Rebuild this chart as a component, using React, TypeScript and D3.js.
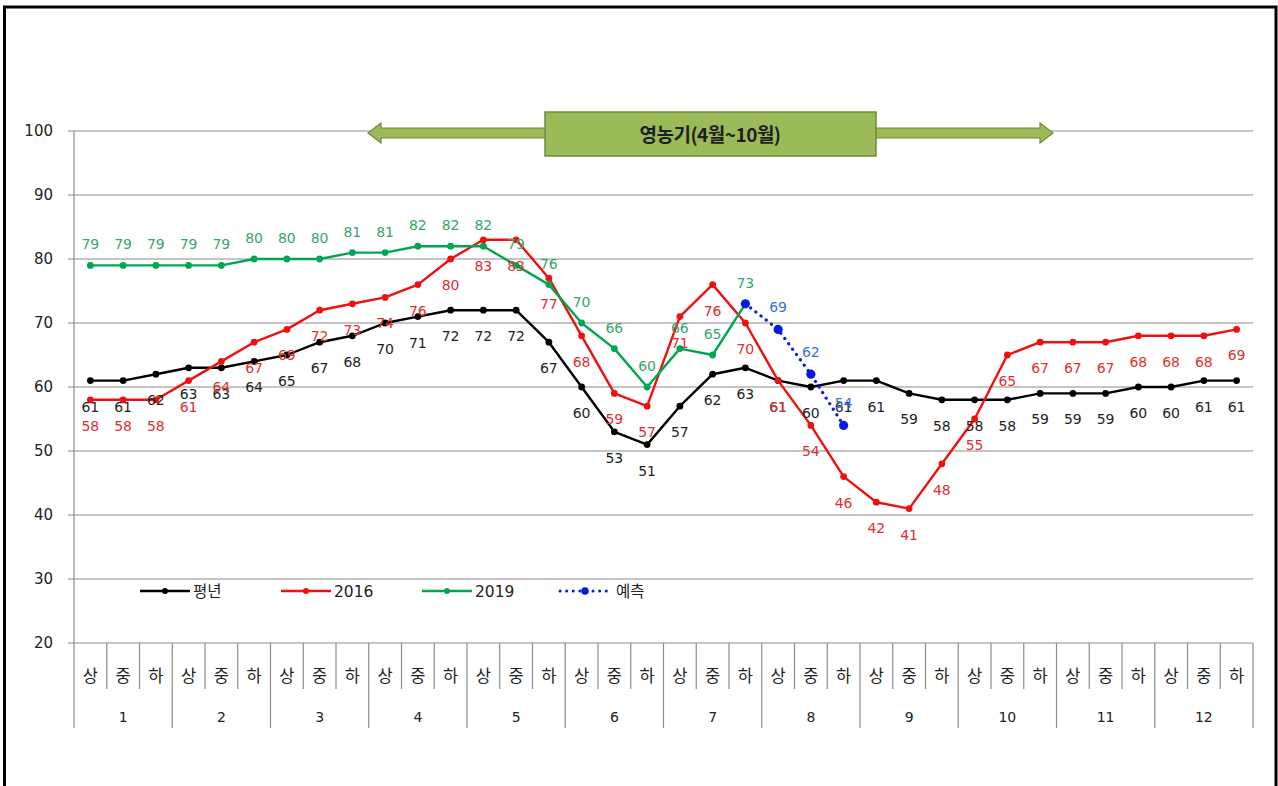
import { useEffect, useRef } from "react";
import * as d3 from "d3";

const months = ["1", "2", "3", "4", "5", "6", "7", "8", "9", "10", "11", "12"];
const thirds = ["상", "중", "하"];
const yTicks = [20, 30, 40, 50, 60, 70, 80, 90, 100];

// 평년
const normal = [61, 61, 62, 63, 63, 64, 65, 67, 68, 70, 71, 72, 72, 72, 67, 60, 53, 51, 57, 62, 63, 61, 60, 61, 61, 59, 58, 58, 58, 59, 59, 59, 60, 60, 61, 61];
// 2016
const y2016 = [58, 58, 58, 61, 64, 67, 69, 72, 73, 74, 76, 80, 83, 83, 77, 68, 59, 57, 71, 76, 70, 61, 54, 46, 42, 41, 48, 55, 65, 67, 67, 67, 68, 68, 68, 69];
// 2019 (to 7월 하순)
const y2019 = [79, 79, 79, 79, 79, 80, 80, 80, 81, 81, 82, 82, 82, 79, 76, 70, 66, 60, 66, 65, 73];
// 예측, starts at 7월 하순
const forecastStart = 20;
const forecast = [73, 69, 62, 54];

const bannerText = "영농기(4월~10월)";

type Pt = { i: number; v: number };

export default function App() {
  const ref = useRef<SVGSVGElement | null>(null);

  useEffect(() => {
    const svg = d3.select(ref.current);
    svg.selectAll("*").remove();

    const W = 1278, H = 786;
    const left = 74, right = 1253, top = 131, bottom = 643;
    const font = "'DejaVu Sans', 'Noto Sans CJK KR', sans-serif";
    const kfont = "'Noto Sans CJK KR', sans-serif";

    const cats = d3.range(36);
    const x = d3.scaleBand<number>().domain(cats).range([left, right]);
    const cx = (i: number) => (x(i) ?? 0) + x.bandwidth() / 2;
    const y = d3.scaleLinear().domain([20, 100]).range([bottom, top]);

    svg.attr("width", W).attr("height", H).attr("viewBox", `0 0 ${W} ${H}`);
    svg.append("rect").attr("width", W).attr("height", H).attr("fill", "#fff");

    // outer frame
    svg.append("rect")
      .attr("x", 4.5).attr("y", 7)
      .attr("width", 1271.5).attr("height", 790)
      .attr("fill", "none").attr("stroke", "#000").attr("stroke-width", 3);

    // gridlines
    svg.append("g").selectAll("line").data(yTicks).enter().append("line")
      .attr("x1", left - 6).attr("x2", right)
      .attr("y1", (d) => y(d)).attr("y2", (d) => y(d))
      .attr("stroke", "#8c8c8c").attr("stroke-width", 1.2);

    // y axis line
    svg.append("line")
      .attr("x1", left).attr("x2", left).attr("y1", top).attr("y2", 728)
      .attr("stroke", "#8c8c8c").attr("stroke-width", 1.2);

    svg.append("g").selectAll("text").data(yTicks).enter().append("text")
      .attr("x", 53).attr("y", (d) => y(d))
      .attr("dy", "0.36em")
      .attr("text-anchor", "end")
      .attr("font-family", font).attr("font-size", 15).attr("fill", "#222")
      .text((d) => d);

    // category axis
    const ax = svg.append("g");
    cats.forEach((i) => {
      const xe = (x(i) ?? 0) + x.bandwidth();
      const isMonthEdge = (i + 1) % 3 === 0;
      ax.append("line")
        .attr("x1", xe).attr("x2", xe)
        .attr("y1", bottom).attr("y2", isMonthEdge ? 728 : 689)
        .attr("stroke", "#8c8c8c").attr("stroke-width", 1.2);
      ax.append("text")
        .attr("x", cx(i)).attr("y", 676).attr("dy", "0.36em")
        .attr("text-anchor", "middle")
        .attr("font-family", kfont).attr("font-size", 16.5).attr("fill", "#222")
        .text(thirds[i % 3]);
    });
    months.forEach((m, k) => {
      ax.append("text")
        .attr("x", cx(k * 3 + 1)).attr("y", 717).attr("dy", "0.36em")
        .attr("text-anchor", "middle")
        .attr("font-family", font).attr("font-size", 14).attr("fill", "#222")
        .text(m);
    });

    // banner arrow
    const ay = 133;
    const banner = svg.append("g");
    const arrowFill = "#9bbb59", arrowStroke = "#71893f";
    banner.append("path")
      .attr("d", [
        `M368,${ay}`, `L381,${ay - 10}`, `L381,${ay - 5}`, `L1040,${ay - 5}`,
        `L1040,${ay - 10}`, `L1053,${ay}`, `L1040,${ay + 10}`, `L1040,${ay + 5}`,
        `L381,${ay + 5}`, `L381,${ay + 10}`, "Z",
      ].join(" "))
      .attr("fill", arrowFill).attr("stroke", arrowStroke).attr("stroke-width", 1.2);
    banner.append("rect")
      .attr("x", 545).attr("y", 112).attr("width", 331).attr("height", 44)
      .attr("fill", arrowFill).attr("stroke", arrowStroke).attr("stroke-width", 1.5);
    banner.append("text")
      .attr("x", 710).attr("y", 135).attr("dy", "0.36em")
      .attr("text-anchor", "middle")
      .attr("font-family", kfont).attr("font-size", 19).attr("font-weight", 700)
      .attr("letter-spacing", -0.5)
      .attr("fill", "#1e1e1e")
      .text(bannerText);

    const line = d3.line<Pt>().x((d) => cx(d.i)).y((d) => y(d.v));

    const series = [
      { name: "평년", data: normal.map((v, i) => ({ i, v })), color: "#000000", label: "#1e1e1e", below: true },
      { name: "2016", data: y2016.map((v, i) => ({ i, v })), color: "#f01010", label: "#dd3030", below: true },
      { name: "2019", data: y2019.map((v, i) => ({ i, v })), color: "#00a651", label: "#35a66c", below: false },
    ];

    const marks = svg.append("g");
    series.forEach((s) => {
      marks.append("path").datum(s.data)
        .attr("fill", "none").attr("stroke", s.color).attr("stroke-width", 2.4)
        .attr("stroke-linejoin", "round").attr("d", line);
      marks.selectAll(null).data(s.data).enter().append("circle")
        .attr("cx", (d) => cx(d.i)).attr("cy", (d) => y(d.v)).attr("r", 3.4)
        .attr("fill", s.color);
    });

    const fc: Pt[] = forecast.map((v, k) => ({ i: forecastStart + k, v }));
    marks.append("path").datum(fc)
      .attr("fill", "none").attr("stroke", "#0a1be0").attr("stroke-width", 3.2)
      .attr("stroke-linecap", "round").attr("stroke-dasharray", "0.1 6.5")
      .attr("d", line);
    marks.selectAll(null).data(fc).enter().append("circle")
      .attr("cx", (d) => cx(d.i)).attr("cy", (d) => y(d.v)).attr("r", 4.6)
      .attr("fill", "#0a1be0");

    // data labels
    const labels = svg.append("g")
      .attr("font-family", font).attr("font-size", 14).attr("text-anchor", "middle");
    series.forEach((s) => {
      labels.selectAll(null).data(s.data).enter().append("text")
        .attr("x", (d) => cx(d.i))
        .attr("y", (d) => y(d.v) + (s.below ? 26 : -21))
        .attr("dy", "0.36em")
        .attr("fill", s.label)
        .text((d) => d.v);
    });
    labels.selectAll(null).data(fc.slice(1)).enter().append("text")
      .attr("x", (d) => cx(d.i)).attr("y", (d) => y(d.v) - 22)
      .attr("dy", "0.36em").attr("fill", "#3a6fd8")
      .text((d) => d.v);

    // legend
    const legendItems = [
      { name: "평년", color: "#000000", x: 140, dotted: false },
      { name: "2016", color: "#f01010", x: 281, dotted: false },
      { name: "2019", color: "#00a651", x: 422, dotted: false },
      { name: "예측", color: "#0a1be0", x: 560, dotted: true },
    ];
    const ly = 591;
    const lg = svg.append("g");
    legendItems.forEach((it) => {
      lg.append("line")
        .attr("x1", it.x).attr("x2", it.x + 50).attr("y1", ly).attr("y2", ly)
        .attr("stroke", it.color)
        .attr("stroke-width", it.dotted ? 3 : 2.4)
        .attr("stroke-linecap", it.dotted ? "round" : "butt")
        .attr("stroke-dasharray", it.dotted ? "0.1 6.5" : null);
      lg.append("circle").attr("cx", it.x + 25).attr("cy", ly)
        .attr("r", it.dotted ? 3.8 : 3).attr("fill", it.color);
      lg.append("text")
        .attr("x", it.x + (it.dotted ? 56 : 53)).attr("y", ly).attr("dy", "0.36em")
        .attr("font-family", it.name === "평년" || it.name === "예측" ? kfont : font)
        .attr("font-size", 15.5).attr("fill", "#222")
        .text(it.name);
    });
  }, []);

  return (
    <svg
      ref={ref}
      style={{ position: "absolute", left: 0, top: 0, display: "block" }}
    />
  );
}
